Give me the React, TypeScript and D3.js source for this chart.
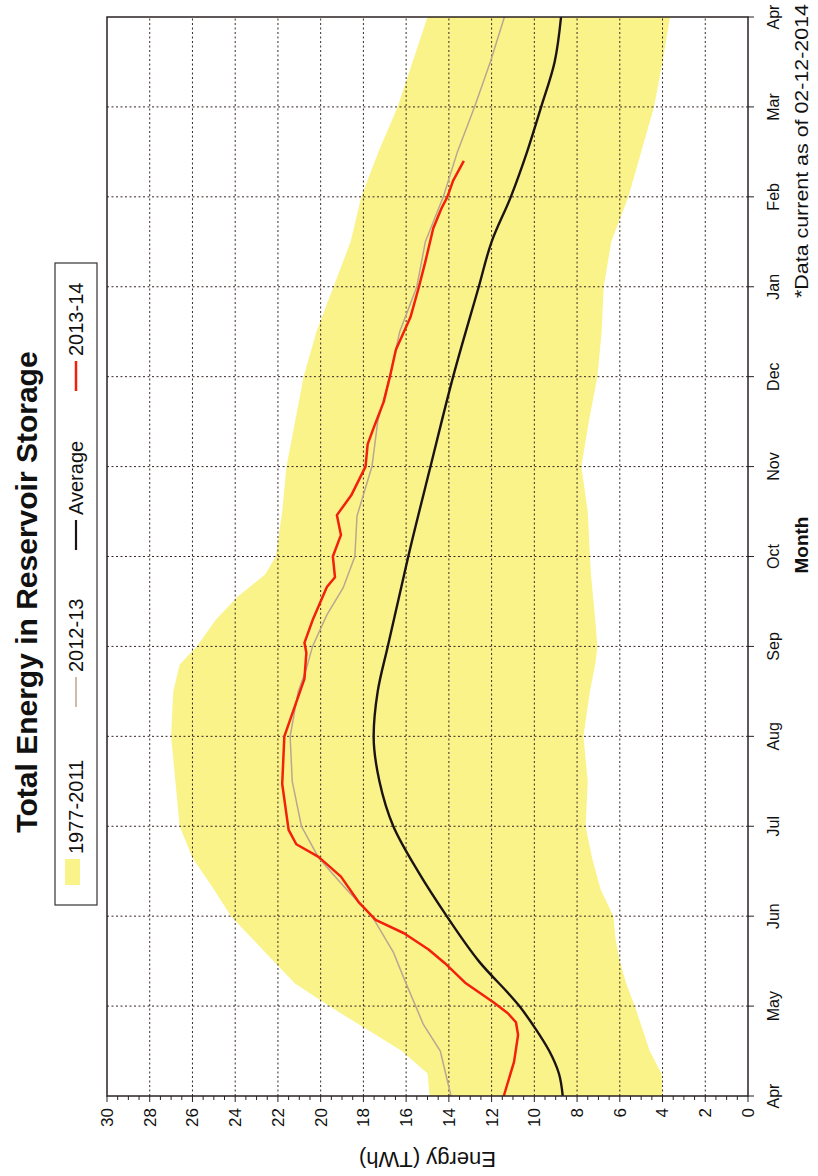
import React from "react";
import * as d3 from "d3";

// chart is drawn upright then turned -90deg to match the scanned page
const W = 1176;

const monthLabels = ["Apr", "May", "Jun", "Jul", "Aug", "Sep", "Oct", "Nov", "Dec", "Jan", "Feb", "Mar", "Apr"];
const energyTicks = [0, 2, 4, 6, 8, 10, 12, 14, 16, 18, 20, 22, 24, 26, 28, 30];

// 1977-2011 range (months since Apr 1)
const bandT = [0, 0.25, 0.5, 0.75, 1, 1.25, 1.5, 1.75, 2, 2.3, 2.65, 3, 3.5, 4, 4.5, 4.8, 5, 5.3, 5.55, 5.8, 6, 6.5, 7, 7.5, 8, 8.5, 9, 9.5, 10, 10.5, 11, 11.5, 12];
const bandMax = [14.9, 15.0, 16.2, 17.9, 19.6, 21.2, 22.2, 23.2, 24.2, 25.0, 26.0, 26.6, 26.8, 27.0, 26.9, 26.6, 25.8, 24.9, 23.9, 22.6, 22.1, 21.8, 21.6, 21.2, 20.8, 20.2, 19.4, 18.6, 18.1, 17.3, 16.4, 15.7, 15.0];
const bandMin = [4.0, 4.05, 4.6, 4.95, 5.3, 5.7, 6.0, 6.2, 6.3, 6.9, 7.3, 7.6, 7.5, 7.7, 7.4, 7.15, 7.05, 7.15, 7.25, 7.35, 7.4, 7.5, 7.8, 7.45, 7.05, 6.85, 6.75, 6.4, 5.6, 5.0, 4.4, 4.0, 3.65];

const avgT = [0, 0.25, 0.5, 0.75, 1, 1.5, 2, 2.5, 3, 3.5, 4, 4.5, 5, 5.5, 6, 7, 8, 9, 9.5, 10, 10.5, 11, 11.5, 12];
const avgV = [8.67, 8.85, 9.3, 9.95, 10.7, 12.6, 14.1, 15.45, 16.6, 17.25, 17.52, 17.33, 16.86, 16.38, 15.9, 14.86, 13.8, 12.6, 12.0, 11.1, 10.34, 9.68, 9.05, 8.75];

const y1213T = [0, 0.5, 0.8, 1.25, 1.6, 2, 2.3, 2.65, 3, 3.5, 4, 4.5, 4.75, 5, 5.35, 5.65, 6, 6.45, 7, 7.5, 8, 8.5, 9, 9.5, 10, 10.5, 11, 11.5, 12];
const y1213V = [13.9, 14.4, 15.2, 16.0, 16.6, 17.6, 18.8, 20.1, 20.9, 21.33, 21.43, 21.05, 20.67, 20.38, 19.71, 18.95, 18.4, 18.3, 17.6, 17.33, 16.76, 16.3, 15.5, 15.1, 14.26, 13.6, 12.8, 12.06, 11.4];

const y1314T = [0, 0.38, 0.68, 0.82, 0.92, 1.04, 1.26, 1.48, 1.63, 1.81, 1.96, 2.15, 2.44, 2.66, 2.8, 2.96, 3.47, 4, 4.38, 4.64, 4.93, 5.04, 5.29, 5.66, 5.77, 6, 6.24, 6.46, 6.68, 7, 7.25, 7.43, 7.72, 8, 8.3, 8.66, 9, 9.28, 9.65, 9.87, 10, 10.18, 10.4];
const y1314V = [11.43, 10.95, 10.76, 10.86, 11.24, 11.9, 13.24, 14.2, 14.95, 16.1, 17.43, 18.2, 19.05, 20.1, 21.14, 21.5, 21.8, 21.7, 21.14, 20.76, 20.67, 20.76, 20.38, 19.71, 19.33, 19.43, 19.05, 19.24, 18.57, 17.9, 17.8, 17.52, 17.05, 16.76, 16.48, 15.8, 15.4, 15.1, 14.73, 14.35, 14.07, 13.8, 13.3];

const font = "'Liberation Sans', Arial, sans-serif";

export default function App() {
  const x = d3.scaleLinear().domain([0, 12]).range([80, 1159]);
  const y = d3.scaleLinear().domain([0, 30]).range([748, 107]);

  const band = d3
    .area<number>()
    .x((d, i) => x(bandT[i]))
    .y0((d, i) => y(bandMin[i]))
    .y1((d) => y(d));

  const line = d3
    .line<[number, number]>()
    .x((d) => x(d[0]))
    .y((d) => y(d[1]));
  const smooth = d3
    .line<[number, number]>()
    .x((d) => x(d[0]))
    .y((d) => y(d[1]))
    .curve(d3.curveMonotoneX);

  const pair = (t: number[], v: number[]) => t.map((tt, i) => [tt, v[i]] as [number, number]);

  const minorTicks = d3.range(0, 30.01, 0.5);
  const monthTicks = d3.range(0, 13);

  return (
    <svg width={818} height={1176} style={{ position: "absolute", left: 0, top: 0, background: "#fff" }}>
      <g transform={`translate(0,${W}) rotate(-90)`} fontFamily={font}>
        <text x={584} y={37} textAnchor="middle" fontSize={30} fontWeight="bold" fill="#111">
          Total Energy in Reservoir Storage
        </text>

        {/* legend */}
        <rect x={271} y={55} width={642} height={42} fill="#fff" stroke="#333" strokeWidth={1.2} />
        <rect x={291} y={65} width={26} height={15} fill="#faf38a" />
        <text x={322} y={83} fontSize={20} fill="#111">1977-2011</text>
        <line x1={469} x2={499} y1={76} y2={76} stroke="#bca690" strokeWidth={1.5} />
        <text x={504} y={83} fontSize={20} fill="#111">2012-13</text>
        <line x1={626} x2={656} y1={76} y2={76} stroke="#1c1414" strokeWidth={2.2} />
        <text x={661} y={83} fontSize={20} fill="#111">Average</text>
        <line x1={785} x2={815} y1={76} y2={76} stroke="#f2200c" strokeWidth={2.5} />
        <text x={820} y={83} fontSize={20} fill="#111">2013-14</text>

        {/* plot */}
        <path d={band(bandMax) || ""} fill="#faf38a" />

        {energyTicks.slice(1, -1).map((v) => (
          <line key={"gy" + v} x1={80} x2={1159} y1={y(v)} y2={y(v)} stroke="#3a2626" strokeWidth={1} strokeDasharray="2,2.5" />
        ))}
        {monthTicks.slice(1, -1).map((m) => (
          <line key={"gx" + m} x1={x(m)} x2={x(m)} y1={107} y2={748} stroke="#3a2626" strokeWidth={1} strokeDasharray="2,2.5" />
        ))}

        <path d={line(pair(y1213T, y1213V)) || ""} fill="none" stroke="#bca690" strokeWidth={1.5} />
        <path d={smooth(pair(avgT, avgV)) || ""} fill="none" stroke="#1c1414" strokeWidth={2.4} />
        <path d={line(pair(y1314T, y1314V)) || ""} fill="none" stroke="#f2200c" strokeWidth={2.5} strokeLinejoin="round" />

        <rect x={80} y={107} width={1079} height={641} fill="none" stroke="#2a2222" strokeWidth={1.5} />

        {/* energy axis */}
        {minorTicks.map((v) => (
          <line key={"mt" + v} x1={80} x2={v % 2 === 0 ? 74 : 76} y1={y(v)} y2={y(v)} stroke="#222" strokeWidth={1} />
        ))}
        {energyTicks.map((v) => (
          <text key={"el" + v} x={68} y={y(v)} dy="0.35em" textAnchor="end" fontSize={17} fill="#111">
            {v}
          </text>
        ))}
        <text transform={`translate(24,${(107 + 748) / 2}) rotate(-90)`} textAnchor="middle" fontSize={22} fill="#111">
          Energy (TWh)
        </text>

        {/* month axis */}
        {monthTicks.map((m) => (
          <line key={"mx" + m} x1={x(m)} x2={x(m)} y1={748} y2={754} stroke="#222" strokeWidth={1} />
        ))}
        {monthLabels.map((lab, i) => (
          <text key={"ml" + i} x={x(i)} y={779} textAnchor="middle" fontSize={16} fill="#111">
            {lab}
          </text>
        ))}
        <text x={631} y={808} textAnchor="middle" fontSize={19} fontWeight="bold" fill="#111">
          Month
        </text>
        <text x={1172} y={808} textAnchor="end" fontSize={19} textLength={294} lengthAdjust="spacingAndGlyphs" fill="#111">
          *Data current as of 02-12-2014
        </text>
      </g>
    </svg>
  );
}
